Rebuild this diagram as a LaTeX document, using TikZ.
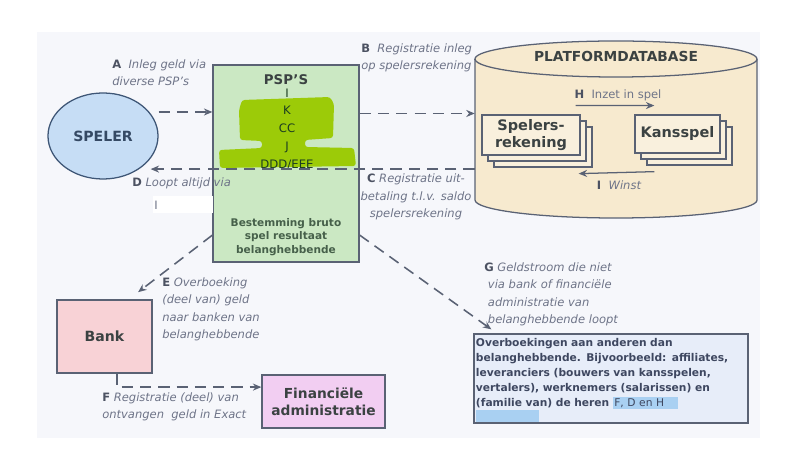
\documentclass[tikz,border=0pt]{standalone}
\usepackage{fontspec}
\setmainfont{DejaVu Sans}
\usetikzlibrary{arrows.meta,shapes.geometric,shadows}
\definecolor{lijn}{HTML}{5A6274}
\definecolor{labelgrijs}{HTML}{6E7488}
\definecolor{letter}{HTML}{4C5262}
\definecolor{spelerblauw}{HTML}{C6DDF5}
\definecolor{spelerrand}{HTML}{3E5676}
\definecolor{pspgroen}{HTML}{CBE8C3}
\definecolor{pspblob}{HTML}{9CCB08}
\definecolor{dbgeel}{HTML}{F7EACF}
\definecolor{bankroze}{HTML}{F8D2D6}
\definecolor{finpaars}{HTML}{F2CEF2}
\definecolor{overigblauw}{HTML}{E7EDF9}
\definecolor{overigtekst}{HTML}{3E4760}
\definecolor{groentekst}{HTML}{46604A}
\definecolor{hlblauw}{HTML}{A9D0F2}
\definecolor{paneel}{HTML}{F6F7FB}
\definecolor{tekst}{HTML}{3B4242}
\setlength{\fboxsep}{1pt}
\newcommand{\stap}[1]{{\upshape\bfseries\color{letter}#1}}

\begin{document}
\begin{tikzpicture}[x=0.025cm,y=-0.025cm,
        flow/.style={lijn,line width=1.1pt,dash pattern=on 8pt off 5pt,-{Stealth[length=6pt,width=5pt]}},
        pijl/.style={lijn,line width=0.9pt,-{Stealth[length=6pt,width=5pt]}},
        lbl/.style={text=labelgrijs,font=\fontsize{8.2}{12.5}\selectfont\itshape,align=left,inner sep=0pt},
        box/.style={draw=lijn,line width=0.9pt,text=tekst,font=\fontsize{10}{11}\selectfont\bfseries,align=center,inner sep=0pt},
        stapel/.style={box,fill=dbgeel!70!white,copy shadow={shadow xshift=0.3cm,shadow yshift=-0.3cm},copy shadow={shadow xshift=0.15cm,shadow yshift=-0.15cm}}]
    \useasboundingbox (0,0) rectangle (800,457);
    \fill[paneel] (37,32) rectangle (760,438);

    \node[ellipse,draw=spelerrand,fill=spelerblauw,line width=0.9pt,minimum width=2.75cm,minimum height=2.15cm,
        font=\fontsize{10}{12}\selectfont\bfseries,text=spelerrand!85!black] (speler) at (103,136) {SPELER};

    \node[box,fill=pspgroen,minimum width=3.65cm,minimum height=4.925cm] (psp) at (286,163.5) {};
    \fill[pspblob,rounded corners=2pt] (242,100) -- (330,97) -- (334,104) -- (333,138) -- (305,140) -- (305,147)
        -- (354,148) -- (356,166) -- (220,168) -- (219,150) -- (262,148) -- (262,141) -- (240,140) -- (239,110) -- cycle;
    \node[text=tekst,font=\fontsize{9.5}{11}\selectfont\bfseries] (psptitel) at (286,80) {PSP’S};
    \node[text=tekst!80!green!60!black,font=\fontsize{8.3}{12.6}\selectfont,align=center] (pspnamen) at (287,129) {I\\K\\CC\\J\\DDD/EEE};
    \node[text=groentekst,font=\fontsize{7.5}{9.6}\selectfont\bfseries,align=center] (bestemming) at (286,237)
        {Bestemming bruto\\spel resultaat\\belanghebbende};

    \draw[lijn,line width=0.9pt,fill=dbgeel] (475,59) -- (475,200)
        arc[start angle=180,end angle=360,x radius=3.525cm,y radius=0.45cm] -- (757,59)
        arc[start angle=0,end angle=180,x radius=3.525cm,y radius=0.45cm] -- cycle;
    \draw[lijn,line width=0.9pt] (475,59) arc[start angle=180,end angle=360,x radius=3.525cm,y radius=0.45cm];
    \node[minimum width=7.05cm,minimum height=3.525cm,inner sep=0pt] (db) at (616,129.5) {};
    \node[text=tekst,font=\fontsize{9.8}{11}\selectfont\bfseries] (dbtitel) at (616,56) {PLATFORMDATABASE};
    \node[stapel,minimum width=2.45cm,minimum height=1cm,font=\fontsize{10.3}{12}\selectfont\bfseries] (spel) at (531,135) {Spelers-\\rekening};
    \node[stapel,minimum width=2.125cm,minimum height=0.95cm,font=\fontsize{10.3}{12}\selectfont\bfseries] (kans) at (677.5,134) {Kansspel};

    \node[box,fill=bankroze,minimum width=2.375cm,minimum height=1.825cm] (bank) at (104.5,336.5) {Bank};
    \node[box,fill=finpaars,minimum width=3.075cm,minimum height=1.325cm,font=\fontsize{9.8}{12}\selectfont\bfseries] (fin) at (323.5,401.5)
        {Financiële\\administratie};
    \node[box,fill=overigblauw,minimum height=2.225cm,text width=6.75cm,inner xsep=0.05cm,align=left,
        text=overigtekst,font=\fontsize{7.6}{10.7}\selectfont\bfseries] (overig) at (611,378.5)
        {Overboekingen aan anderen dan\\belanghebbende. Bijvoorbeeld: affiliates,\\leveranciers (bouwers van kansspelen,\\vertalers), werknemers (salarissen) en\\(familie van) de heren \colorbox{hlblauw}{\mdseries F, D en H\hspace{1.2em}}\\[-2pt]\mbox{}};
    \fill[hlblauw] (476,410) rectangle (539,422);

    \draw[flow] ([yshift=0.6cm]speler.east) -- ([yshift=0.6cm]speler.east -| psp.west);
    \draw[flow] ([yshift=1.25cm]psp.east) -- ([yshift=1.25cm]psp.east -| db.west);
    \draw[flow] ([yshift=-0.14cm]psp.east -| db.west) -- ([xshift=-0.2cm,yshift=-0.14cm]psp.east -| speler.east);
    \draw[flow] ([yshift=-1.79cm]psp.west) -- ([xshift=0.84cm,yshift=0.18cm]bank.north);
    \draw[flow] ([xshift=0.31cm]bank.south) |- ([yshift=0.36cm]fin.west);
    \draw[flow] ([yshift=-1.79cm]psp.east) -- ([xshift=0.45cm,yshift=0.1cm]overig.north west);
    \draw[pijl] ([xshift=-0.125cm,yshift=0.22cm]spel.north east) -- ([xshift=0.5cm,yshift=0.22cm]kans.north west);
    \draw[pijl] ([xshift=0.5cm,yshift=-0.45cm]kans.south west) -- ([xshift=-0.05cm,yshift=-0.45cm]spel.south east);

    \node[lbl,anchor=north west] (labA) at (112,59) {\stap{A}\ \ Inleg geld via\\diverse PSP’s};
    \node[lbl,anchor=north west] (labB) at (361,43) {\stap{B}\ \ Registratie inleg\\op spelersrekening};
    \node[lbl,align=center] (labC) at (416,197) {\stap{C} Registratie uit-\\betaling t.l.v. saldo\\spelersrekening};
    \node[lbl,anchor=north west] (labD) at (132,177) {\stap{D} Loopt altijd via};
    \fill[white] (153,196) rectangle (213,213);
    \node[lbl,font=\fontsize{8.2}{12.5}\selectfont] (labDi) at (156,205) {I};
    \node[lbl,anchor=north west] (labE) at (162,277) {\stap{E} Overboeking\\(deel van) geld\\naar banken van\\belanghebbende};
    \node[lbl,anchor=north west] (labF) at (102,392) {\stap{F} Registratie (deel) van\\ontvangen\ \ geld in Exact};
    \node[lbl,anchor=north west] (labG) at (484,262) {\stap{G} Geldstroom die niet\\\ via bank of financiële\\\ administratie van\\\ belanghebbende loopt};
    \node[lbl,font=\fontsize{8.2}{12.5}\selectfont] (labH) at (618,95) {\stap{H}\ \ Inzet in spel};
    \node[lbl] (labI) at (619,185) {\stap{I}\ \ Winst};
\end{tikzpicture}
\end{document}
